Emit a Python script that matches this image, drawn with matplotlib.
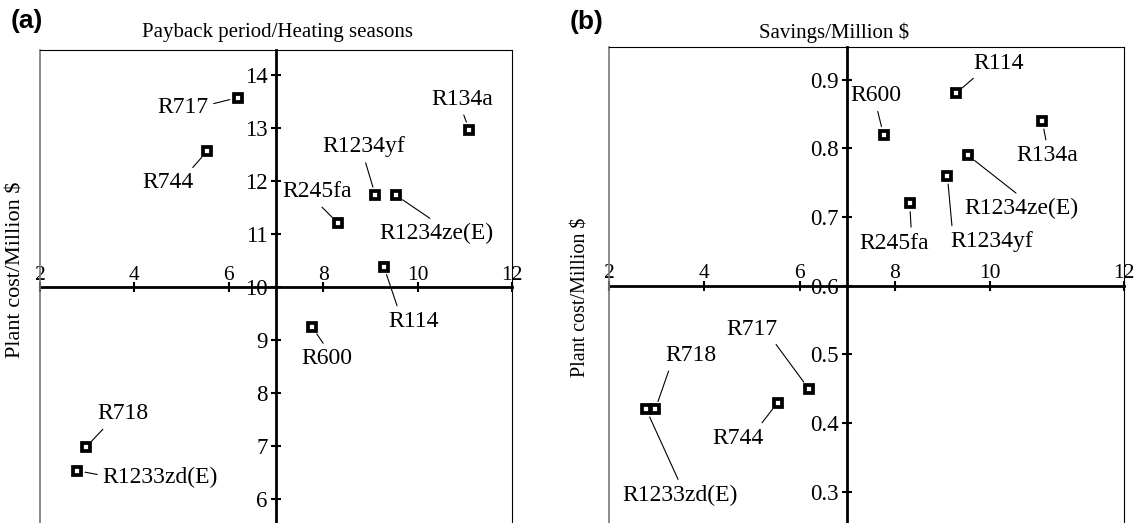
import matplotlib
matplotlib.use("Agg")
import matplotlib.pyplot as plt

# ---------------- data ----------------
refrigerants = ["R717", "R744", "R134a", "R1234yf", "R1234ze(E)", "R245fa",
                "R114", "R600", "R718", "R1233zd(E)"]
payback = [6.19, 5.54, 11.09, 9.10, 9.53, 8.31, 9.28, 7.76, 2.97, 2.78]
plant_cost = [13.58, 12.57, 12.97, 11.74, 11.74, 11.21, 10.39, 9.25, 6.98, 6.54]
savings = [0.45, 0.43, 0.84, 0.76, 0.79, 0.72, 0.88, 0.82, 0.42, 0.42]

x_ticks = [2, 4, 6, 8, 10, 12]
x_tick_labels = ["2", "4", "6", "8", "10", "12"]
y_ticks_a = [6, 7, 8, 9, 10, 11, 12, 13, 14]
y_tick_labels_a = ["6", "7", "8", "9", "10", "11", "12", "13", "14"]
y_ticks_b = [0.3, 0.4, 0.5, 0.6, 0.7, 0.8, 0.9]
y_tick_labels_b = ["0.3", "0.4", "0.5", "0.6", "0.7", "0.8", "0.9"]

title_a = "Payback period/Heating seasons"
title_b = "Savings/Million $"
ylabel = "Plant cost/Million $"

# ---------------- layout (label placement, leader anchor on text box) ----------------
lab_a = {"R717": (5.02, 13.40, (1.0, 0.6)), "R744": (4.71, 11.97, (0.9, 1.0)),
         "R134a": (10.93, 13.55, (0.5, 0.0)), "R1234yf": (8.86, 12.65, (0.5, 0.0)),
         "R245fa": (7.87, 11.80, (0.5, 0.0)), "R1234ze(E)": (10.39, 11.02, (0.5, 1.0)),
         "R114": (9.92, 9.35, (0.2, 1.0)), "R600": (8.07, 8.65, (0.5, 1.0)),
         "R718": (3.75, 7.61, (0.2, 0.0)), "R1233zd(E)": (4.55, 6.41, (0.0, 0.6))}
lab_b = {"R717": (5.00, 0.537, (0.9, 0.0)), "R744": (4.70, 0.378, (0.9, 1.0)),
         "R134a": (11.19, 0.789, (0.5, 1.0)), "R1234yf": (10.04, 0.664, (0.02, 1.0)),
         "R1234ze(E)": (10.66, 0.713, (0.5, 1.0)), "R245fa": (7.98, 0.662, (0.75, 1.0)),
         "R114": (10.18, 0.924, (0.1, 0.0)), "R600": (7.61, 0.877, (0.5, 0.0)),
         "R718": (3.72, 0.499, (0.1, 0.0)), "R1233zd(E)": (3.50, 0.295, (0.5, 1.0))}

W, H = 1137, 523
fig = plt.figure(figsize=(W / 100, H / 100), dpi=100)
plt.rcParams["font.family"] = ["Liberation Serif", "DejaVu Serif"]


def px_axes(l, r, t, b=H):
    return fig.add_axes([l / W, 1 - b / H, (r - l) / W, (b - t) / H])


def setup(ax, xlim, ylim, xcross, ycross, yticks, yticklabels, xtickpos):
    ax.set_xlim(*xlim)
    ax.set_ylim(*ylim)
    ax.spines["left"].set_position(("data", xcross))
    ax.spines["bottom"].set_position(("data", ycross))
    for s in ("left", "bottom"):
        ax.spines[s].set_linewidth(2.0)
        ax.spines[s].set_zorder(1)
    for s in ("top", "right"):
        ax.spines[s].set_linewidth(0.8)
    ax.plot([0, 0], [0, 1], transform=ax.transAxes, color="#777777", lw=1.2, clip_on=False)
    ax.set_xticks(xtickpos)
    ax.set_xticklabels(x_tick_labels)
    ax.set_yticks(yticks)
    ax.set_yticklabels(yticklabels)
    ax.tick_params(axis="x", direction="inout", length=7, width=1.5, labelsize=15.5, pad=-5.5)
    ax.tick_params(axis="y", direction="inout", length=7, width=1.5, labelsize=16.5, pad=2.5)
    for lb in ax.get_xticklabels():
        lb.set_va("bottom")


def draw(ax, xs, ys, labs):
    for name, x, y in zip(refrigerants, xs, ys):
        tx, ty, rp = labs[name]
        ax.annotate(name, xy=(x, y), xytext=(tx, ty), textcoords="data",
                    ha="center", va="center", fontsize=17,
                    arrowprops=dict(arrowstyle="-", lw=0.8, color="black",
                                    shrinkA=2, shrinkB=6, relpos=rp), zorder=4)
    ax.plot(xs, ys, linestyle="none", marker="s", markersize=5.2,
            markerfacecolor="white", markeredgecolor="black", markeredgewidth=2.7,
            zorder=5)


# panel a
axa = px_axes(40, 512.3, 50)
setup(axa, (2, 12), (5.553, 14.477), 7, 10, y_ticks_a, y_tick_labels_a, x_ticks)
draw(axa, payback, plant_cost, lab_a)
axa.set_ylabel(ylabel, fontsize=16)
axa.yaxis.set_label_coords(-0.030, 0.535)

# panel b
axb = px_axes(609, 1123.7, 46.7)
setup(axb, (2, 12.8), (0.2546, 0.948), 7, 0.6, y_ticks_b, y_tick_labels_b,
      [2, 4, 6, 8, 10, 12.8])
draw(axb, payback, savings, lab_b)
axb.set_ylabel(ylabel, fontsize=14.5)
axb.yaxis.set_label_coords(-0.035, 0.474)

fig.text(277 / W, 1 - 33 / H, title_a, ha="center", va="center", fontsize=15)
fig.text(834 / W, 1 - 33 / H, title_b, ha="center", va="center", fontsize=15)
fig.text(26.5 / W, 1 - 21 / H, "(a)", ha="center", va="center", fontsize=19,
         fontweight="bold", family="Liberation Sans")
fig.text(587 / W, 1 - 22 / H, "(b)", ha="center", va="center", fontsize=19,
         fontweight="bold", family="Liberation Sans")

fig.savefig("out.png", dpi=100)
